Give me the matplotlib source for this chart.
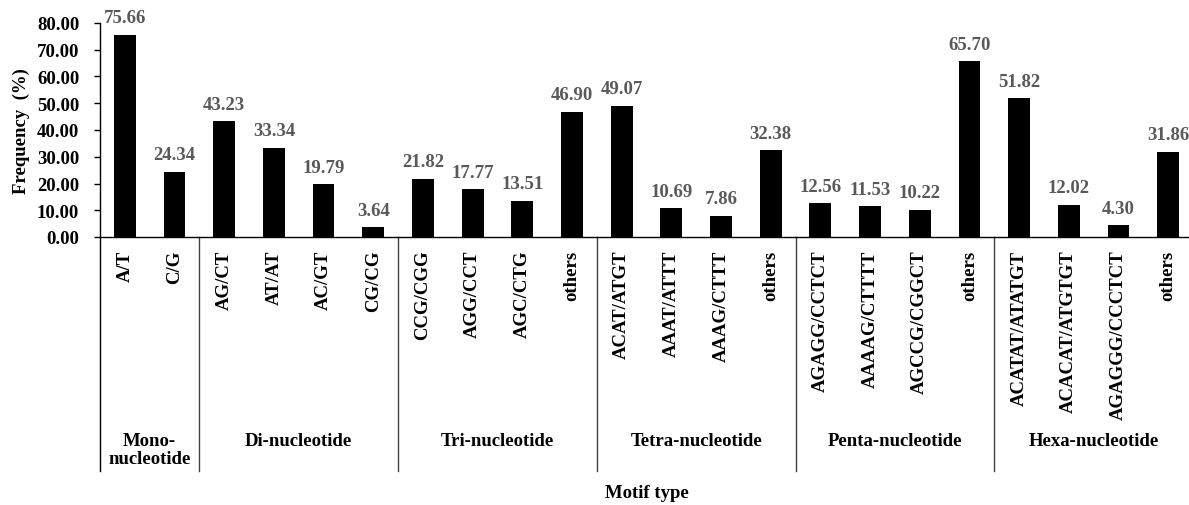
import numpy as np
import matplotlib
matplotlib.use("Agg")
import matplotlib.pyplot as plt
import matplotlib.transforms as mtransforms

# Data
motifs = [
    "A/T", "C/G",
    "AG/CT", "AT/AT", "AC/GT", "CG/CG",
    "CCG/CGG", "AGG/CCT", "AGC/CTG", "others",
    "ACAT/ATGT", "AAAT/ATTT", "AAAG/CTTT", "others",
    "AGAGG/CCTCT", "AAAAG/CTTTT", "AGCCG/CGGCT", "others",
    "ACATAT/ATATGT", "ACACAT/ATGTGT", "AGAGGG/CCCTCT", "others",
]
frequency = [
    75.66, 24.34,
    43.23, 33.34, 19.79, 3.64,
    21.82, 17.77, 13.51, 46.90,
    49.07, 10.69, 7.86, 32.38,
    12.56, 11.53, 10.22, 65.70,
    51.82, 12.02, 4.30, 31.86,
]
groups = ["Mono-\nnucleotide", "Di-nucleotide", "Tri-nucleotide",
          "Tetra-nucleotide", "Penta-nucleotide", "Hexa-nucleotide"]
group_sizes = [2, 4, 4, 4, 4, 4]

plt.rcParams["font.family"] = ["Liberation Serif", "DejaVu Serif"]
plt.rcParams["font.weight"] = "bold"
fs = 13.5

W, H = 1189, 506
fig = plt.figure(figsize=(W / 100, H / 100), dpi=100)
ax = fig.add_axes([100 / W, (H - 238) / H, 1093 / W, 214 / H])

x = np.arange(len(motifs))
ax.bar(x, frequency, width=0.44, color="black")

for xi, v in zip(x, frequency):
    ax.annotate(f"{v:.2f}", (xi, v), xytext=(0, 9), textcoords="offset points",
                ha="center", va="baseline", fontsize=fs, fontweight="bold",
                color="#595959")

ax.set_xlim(-0.5, len(motifs) - 0.5)
ax.set_ylim(0, 80)
ax.set_yticks(np.arange(0, 81, 10))
ax.set_yticklabels([f"{t:.2f}" for t in np.arange(0, 81, 10)],
                   fontsize=fs, fontweight="bold")
ax.tick_params(axis="y", length=4, width=1, pad=11)
ax.set_xticks(x)
ax.set_xticklabels(motifs, rotation=90, fontsize=fs, fontweight="bold",
                   va="top")
ax.tick_params(axis="x", length=0, pad=9)

for s in ["top", "right"]:
    ax.spines[s].set_visible(False)
ax.spines["left"].set_linewidth(1)
ax.spines["bottom"].set_linewidth(1)

# group separators and labels
trans = mtransforms.blended_transform_factory(ax.transData, ax.transAxes)
y_low = -(472 - 238) / 214
start = -0.5
ax.plot([start, start], [0, y_low], transform=trans, color="black",
        lw=1, clip_on=False)
for name, n in zip(groups, group_sizes):
    end = start + n
    ax.plot([end, end], [0, y_low], transform=trans, color="#404040",
            lw=1, clip_on=False)
    ax.text((start + end) / 2, -(433 - 238) / 214, name, transform=trans,
            ha="center", va="top", fontsize=fs, fontweight="bold",
            linespacing=1.05)
    start = end

ax.set_ylabel("Frequency  (%)", fontsize=fs, fontweight="bold", labelpad=5)
fig.text((100 + 1193) / 2 / W, 1 - 494 / H, "Motif type", ha="center",
         va="center", fontsize=fs, fontweight="bold")

fig.savefig("out.png", dpi=100)
